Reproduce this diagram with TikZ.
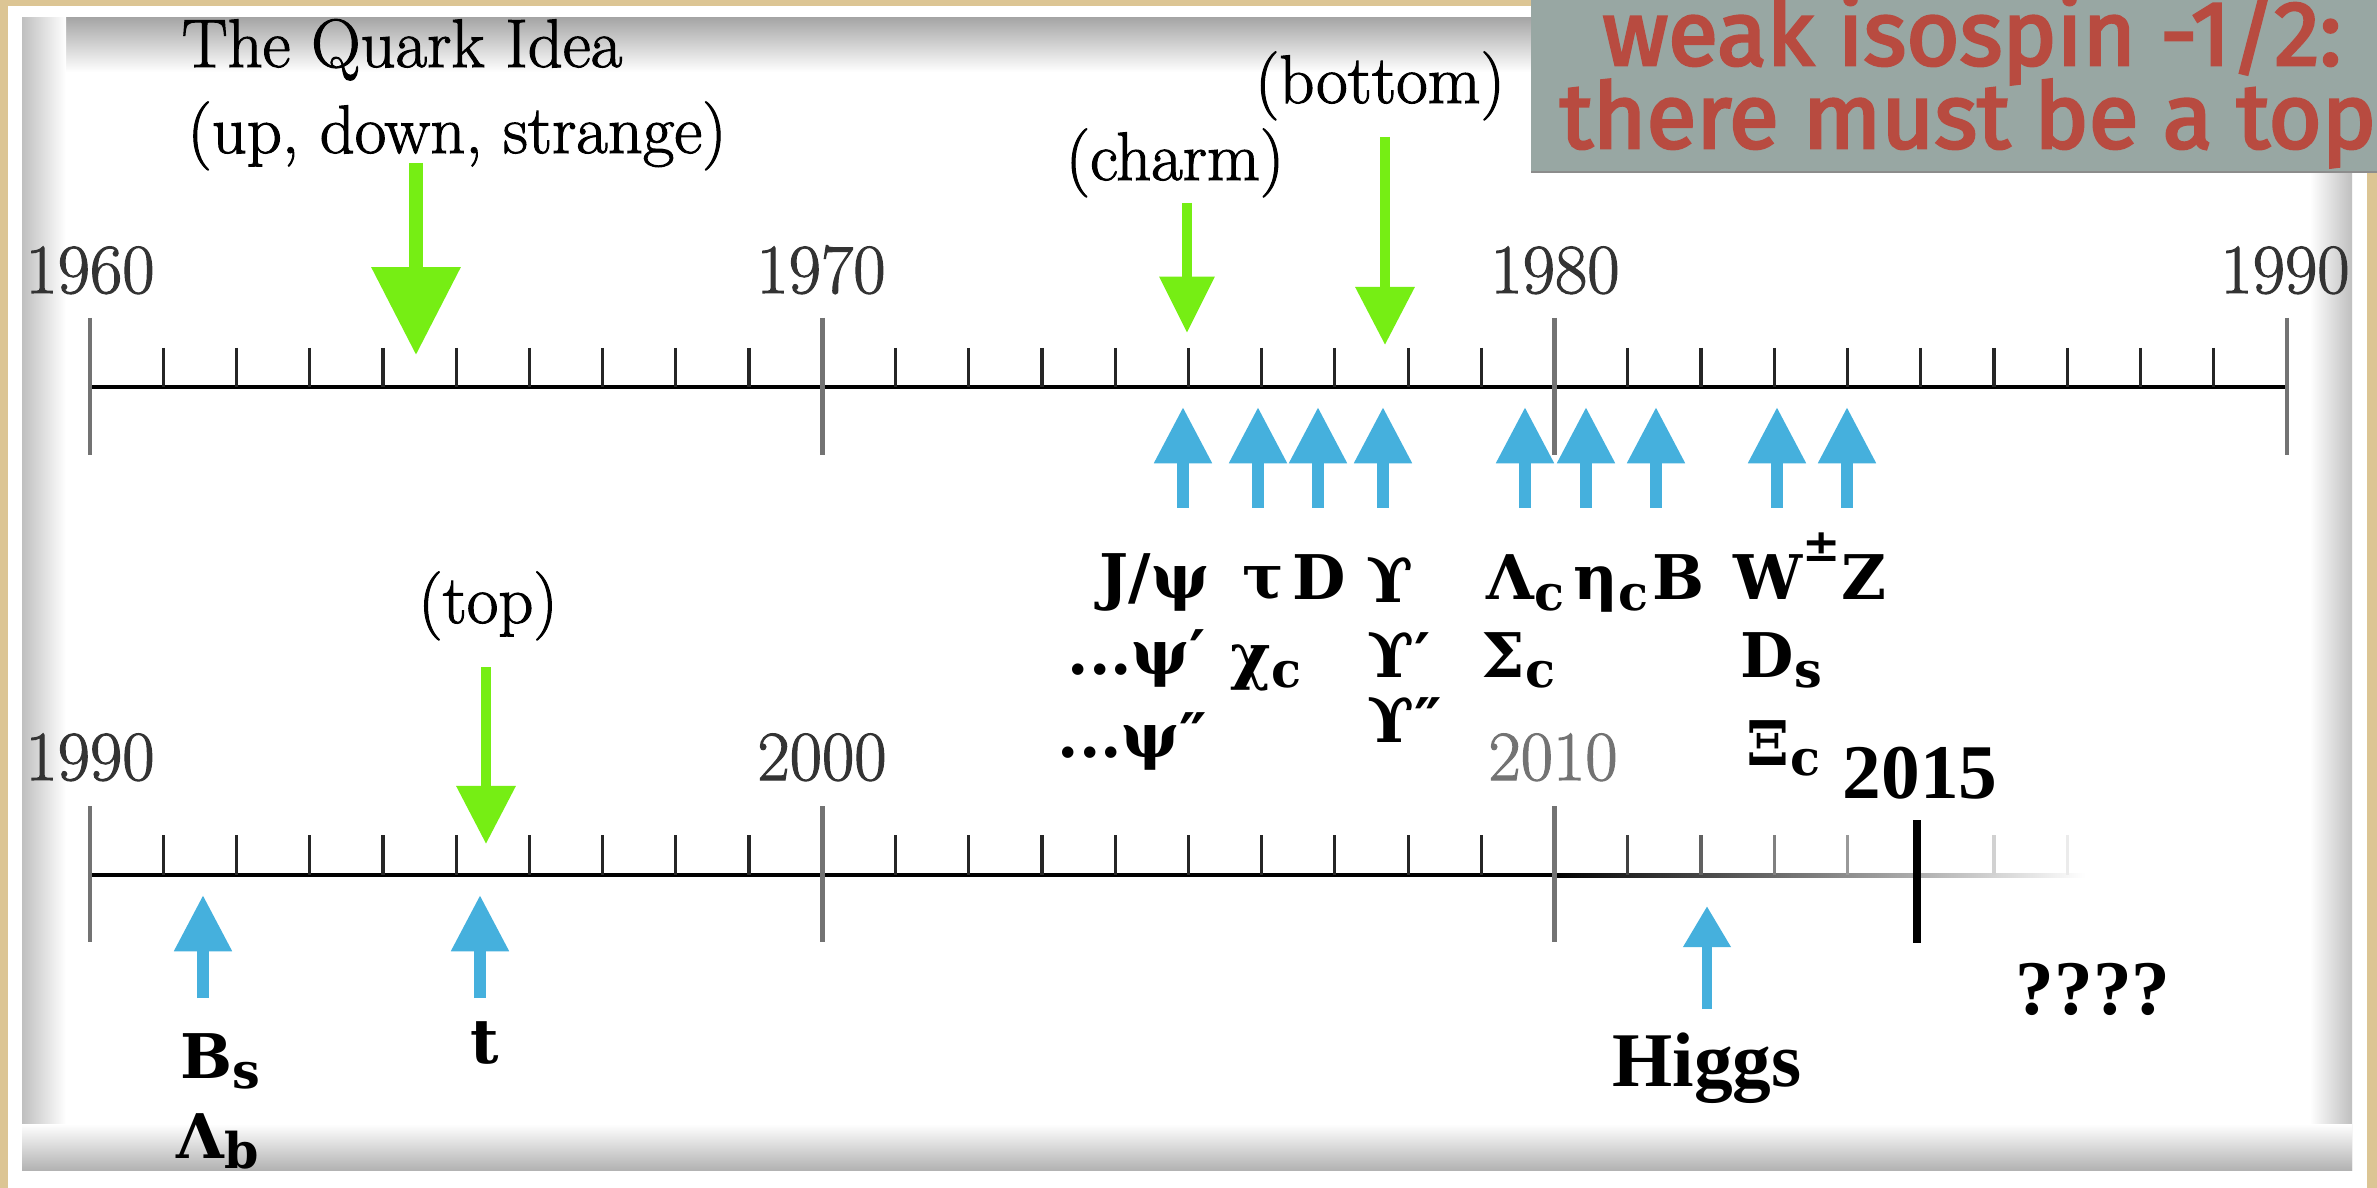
\documentclass[tikz,border=0pt]{standalone}
\usepackage{fontspec}
\newfontfamily\notefont{Latin Modern Roman}[FakeBold=1.5]
\newfontfamily\partfont{DejaVu Serif}
\newfontfamily\timesfont{Liberation Serif}
\newfontfamily\boxfont{Fira Sans}[FakeBold=3]
\usetikzlibrary{arrows.meta}
\definecolor{tanbg}{HTML}{DCC594}
\definecolor{boxgray}{HTML}{98A7A3}
\definecolor{boxred}{HTML}{B84B40}
\definecolor{quarkgreen}{HTML}{76EE14}
\definecolor{findblue}{HTML}{45B0DD}
\newcommand\lowtxt[1]{\raisebox{-3pt}{\fontsize{14}{14}\selectfont #1}}

\begin{document}
\begin{tikzpicture}[x=0.01cm, y=-0.01cm,
  yearlbl/.style={anchor=base, inner sep=0pt, text=black!80, font=\notefont\fontsize{20}{22}\selectfont},
  notelbl/.style={anchor=base, inner sep=0pt, font=\notefont\fontsize{19.5}{21}\selectfont},
  partlbl/.style={anchor=base west, inner sep=0pt, font=\partfont\bfseries\fontsize{17.5}{20}\selectfont},
  boldlbl/.style={anchor=base, inner sep=0pt, font=\timesfont\bfseries\fontsize{22}{24}\selectfont},
  redlbl/.style={anchor=base, inner sep=0pt, text=boxred, font=\boxfont\fontsize{26}{26}\selectfont},
  axisline/.style={line width=1.15pt},
  majortick/.style={line width=1.3pt, black!55},
  minortick/.style={line width=0.9pt, black!85},
  greenarr/.style={quarkgreen, line width=2.85pt, -{Triangle[width=16.2pt, length=16.5pt]}},
  bluearr/.style={findblue, line width=3.4pt, -{Triangle[width=15.6pt, length=16pt]}}]

  \useasboundingbox (0,0) rectangle (2377,1188);
  \clip (0,0) rectangle (2377,1188);

  % paper on the tan board
  \fill[tanbg] (0,0) rectangle (2377,1188);
  \fill[white] (8,6) rectangle (2367,1188);
  \shade[top color=black!35, bottom color=white] (22,18) rectangle (2352,72);
  \shade[left color=black!25, right color=white] (22,18) rectangle (66,1170);
  \shade[left color=white, right color=black!25] (2310,18) rectangle (2352,1170);
  \shade[top color=white, bottom color=black!30] (22,1124) rectangle (2352,1170);

  % note box
  \fill[boxgray] (1531,-5) rectangle (2390,172);
  \draw[black!45, line width=0.8pt] (1531,172) -- (2377,172);
  \node[redlbl] (isospin) at (1972,65) {weak isospin -1/2:};
  \node[redlbl] (mustbe) at (1968,148) {there must be a top};

  % 1960--1990
  \draw[axisline] (90,387) -- (2287,387);
  \foreach \d in {0,10,20}
    \foreach \j in {1,...,9}
      \draw[minortick] ({90+73.23*(\d+\j)},348) -- ({90+73.23*(\d+\j)},387);
  \foreach \i in {0,10,20,30}
    \draw[majortick] ({90+73.23*\i},318) -- ({90+73.23*\i},455);
  \node[yearlbl] (y1960) at (90,293) {1960};
  \node[yearlbl] (y1970) at (821,293) {1970};
  \node[yearlbl] (y1980) at (1555,293) {1980};
  \node[yearlbl] (y1990a) at (2285,293) {1990};

  \node[notelbl] (quark) at (402,67) {The Quark Idea};
  \node[notelbl] (uds) at (457,153) {(up, down, strange)};
  \node[notelbl] (charm) at (1175,180) {(charm)};
  \node[notelbl] (bottom) at (1380,103) {(bottom)};

  \coordinate (quarktail) at (416,163);  \coordinate (quarktip) at (416,355);
  \coordinate (charmtail) at (1187,203); \coordinate (charmtip) at (1187,333);
  \coordinate (bottail) at (1385,137);   \coordinate (bottip) at (1385,345);
  \draw[greenarr, line width=3.7pt, -{Triangle[width=24.5pt, length=25pt]}] (quarktail) -- (quarktip);
  \draw[greenarr, -{Triangle[width=15pt, length=16pt]}] (charmtail) -- (charmtip);
  \draw[greenarr] (bottail) -- (bottip);

  \foreach \x [count=\n] in {1183,1258,1318,1383,1525,1586,1656,1777,1847} {
    \coordinate (find\n) at (\x,508);
    \coordinate (findtip\n) at (\x,407);
    \draw[bluearr] (find\n) -- (findtip\n);
  }

  \node[partlbl] (jpsi) at (1099,598) {J/ψ};
  \node[partlbl] (tau) at (1242,598) {τ};
  \node[partlbl] (dmeson) at (1292,600) {D};
  \node[partlbl] (ups) at (1366,603) {ϒ};
  \node[partlbl] (lamc) at (1486,600) {Λ\lowtxt{c}};
  \node[partlbl] (etac) at (1573,600) {η\lowtxt{c}};
  \node[partlbl] (bmeson) at (1652,600) {B};
  \node[partlbl] (wz) at (1733,600) {W\raisebox{11pt}{\fontsize{13}{13}\selectfont ±}Z};
  \node[partlbl] (psip) at (1067,675) {...ψ′};
  \node[partlbl] (chic) at (1230,677) {χ\lowtxt{c}};
  \node[partlbl] (upsp) at (1367,678) {ϒ′};
  \node[partlbl] (sigc) at (1481,677) {Σ\lowtxt{c}};
  \node[partlbl] (ds) at (1740,677) {D\lowtxt{s}};
  \node[partlbl] (psipp) at (1057,758) {...ψ″};
  \node[partlbl] (upspp) at (1367,742) {ϒ″};
  \node[partlbl] (xic) at (1746,765) {Ξ\lowtxt{c}};

  % 1990--2015
  \draw[axisline] (90,875) -- (1555,875);
  \shade[left color=black, right color=white] (1555,873) rectangle (2085,877);
  \foreach \d in {0,10}
    \foreach \j in {1,...,9}
      \draw[minortick] ({90+73.23*(\d+\j)},835) -- ({90+73.23*(\d+\j)},875);
  \foreach \i/\lvl in {21/75,22/62,23/50,24/40,26/18,27/8}
    \draw[minortick, black!\lvl] ({90+73.23*\i},835) -- ({90+73.23*\i},875);
  \foreach \i in {0,10,20}
    \draw[majortick] ({90+73.23*\i},806) -- ({90+73.23*\i},942);
  \draw[line width=2.2pt] (1917,820) -- (1917,943);
  \node[yearlbl] (y1990b) at (90,780) {1990};
  \node[yearlbl] (y2000) at (822,780) {2000};
  \node[yearlbl, text=black!55] (y2010) at (1553,780) {2010};
  \node[boldlbl, anchor=base west] (y2015) at (1842,798) {2015};

  \node[notelbl] (topq) at (488,623) {(top)};
  \coordinate (toptail) at (486,667); \coordinate (toptip) at (486,844);
  \draw[greenarr] (toptail) -- (toptip);

  \coordinate (bstail) at (203,998); \coordinate (bstip) at (203,895);
  \coordinate (ttail) at (480,998);  \coordinate (ttip) at (480,895);
  \coordinate (higgstail) at (1707,1009); \coordinate (higgstip) at (1707,906);
  \draw[bluearr] (bstail) -- (bstip);
  \draw[bluearr] (ttail) -- (ttip);
  \draw[bluearr, line width=3.1pt, -{Triangle[width=12.8pt, length=11.7pt]}] (higgstail) -- (higgstip);

  \node[partlbl] (bs) at (180,1078) {B\lowtxt{s}};
  \node[partlbl] (lamb) at (176,1158) {Λ\lowtxt{b}};
  \node[partlbl] (tquark) at (470,1063) {t};
  \node[boldlbl] (higgs) at (1707,1086) {Higgs};
  \node[boldlbl, anchor=base west] (unknown) at (2015,1014) {????};
\end{tikzpicture}
\end{document}
